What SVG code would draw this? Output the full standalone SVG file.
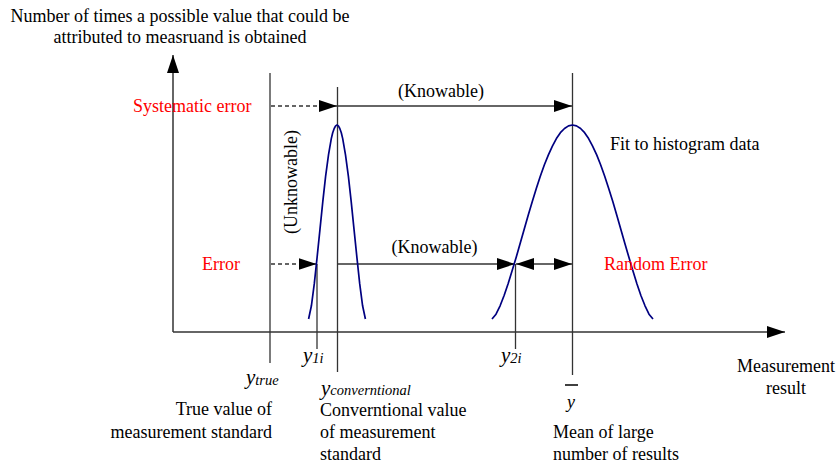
<svg xmlns="http://www.w3.org/2000/svg" width="839" height="473" viewBox="0 0 839 473">
<style>
text{font-family:"Liberation Serif","Times New Roman",serif;font-size:18px;fill:#000}
.red{fill:#ff0000}
.it{font-style:italic}
.sub{font-size:14.5px;font-style:italic}
.ln{stroke:#333;stroke-width:1.3;fill:none}
.ax{stroke:#333;stroke-width:1.5;fill:none}
.dash{stroke:#333;stroke-width:1.3;fill:none;stroke-dasharray:4 3}
.curve{stroke:#000080;stroke-width:1.7;fill:none;stroke-linejoin:round}
</style>
<defs>
<marker id="ah" viewBox="0 0 18 12" markerWidth="18" markerHeight="12" markerUnits="userSpaceOnUse" refX="18" refY="6" orient="auto-start-reverse">
<path d="M0,0 L18,6 L0,12 z" fill="#000"/>
</marker>
</defs>
<rect width="839" height="473" fill="#fff"/>
<g id="title">
<text x="180" y="22" text-anchor="middle">Number of times a possible value that could be</text>
<text x="180" y="43" text-anchor="middle">attributed to measruand is obtained</text>
</g>
<g id="axes">
<line class="ax" x1="173" y1="332" x2="173" y2="55" marker-end="url(#ah)"/>
<line class="ax" x1="173" y1="332" x2="785" y2="332" marker-end="url(#ah)"/>
</g>
<g id="connectors">
<line class="ln" x1="270" y1="73" x2="270" y2="363"/>
<line class="ln" x1="317" y1="264" x2="317" y2="349"/>
<line class="ln" x1="337.5" y1="87" x2="337.5" y2="372"/>
<line class="ln" x1="515.5" y1="264" x2="515.5" y2="349"/>
<line class="ln" x1="572.5" y1="73" x2="572.5" y2="375"/>
<line class="dash" x1="271" y1="106" x2="337" y2="106" marker-end="url(#ah)"/>
<line class="ln" x1="337.5" y1="106" x2="572" y2="106" marker-end="url(#ah)"/>
<line class="dash" x1="271" y1="264" x2="316.5" y2="264" marker-end="url(#ah)"/>
<line class="ln" x1="337.5" y1="264" x2="515" y2="264" marker-end="url(#ah)"/>
<line class="ln" x1="516" y1="264" x2="572" y2="264" marker-start="url(#ah)" marker-end="url(#ah)"/>
</g>
<g id="narrow-curve">
<polyline class="curve" points="308.6,319 311.4,305.8 314.3,283.7 317.1,257.3 320.0,229.2 322.8,201.6 325.6,176.3 328.5,154.9 331.3,138.6 332.7,132.7 334.2,128.5 335.6,125.9 337,125 338.4,125.9 339.8,128.5 341.3,132.7 342.7,138.6 345.5,154.9 348.4,176.3 351.2,201.6 354.0,229.2 356.9,257.3 359.7,283.7 362.6,305.8 365.4,319"/>
</g>
<g id="wide-curve">
<polyline class="curve" points="492.0,319 496.0,314.2 500.1,305.8 504.1,295.5 508.1,283.7 512.1,270.8 516.2,257.3 520.2,243.3 524.2,229.2 528.2,215.3 532.3,201.6 536.3,188.6 540.3,176.3 544.3,165.0 548.4,154.9 552.4,146.1 556.4,138.6 560.4,132.7 564.5,128.5 568.5,125.9 572.5,125 576.5,125.9 580.6,128.5 584.6,132.7 588.6,138.6 592.6,146.1 596.7,154.9 600.7,165.0 604.7,176.3 608.7,188.6 612.8,201.6 616.8,215.3 620.8,229.2 624.8,243.3 628.9,257.3 632.9,270.8 636.9,283.7 640.9,295.5 645.0,305.8 649.0,314.2 653.0,319"/>
</g>
<g id="labels">
<text class="red" x="133" y="112">Systematic error</text>
<text class="red" x="202" y="270">Error</text>
<text class="red" x="604" y="270">Random Error</text>
<text x="441" y="97" text-anchor="middle">(Knowable)</text>
<text x="434.5" y="253" text-anchor="middle">(Knowable)</text>
<text transform="translate(297,182) rotate(-90)" text-anchor="middle">(Unknowable)</text>
<text x="610" y="150">Fit to histogram data</text>
</g>
<g id="x-label">
<text x="786" y="372" text-anchor="middle">Measurement</text>
<text x="786" y="394" text-anchor="middle">result</text>
</g>
<g id="y-true">
<text x="246" y="384"><tspan class="it" font-size="21">y</tspan><tspan class="sub" dy="1">true</tspan></text>
<text x="272" y="415" text-anchor="end">True value of</text>
<text x="272" y="438" text-anchor="end">measurement standard</text>
</g>
<g id="y-1i">
<text x="303" y="362"><tspan class="it" font-size="21">y</tspan><tspan class="sub" dy="1">1i</tspan></text>
</g>
<g id="y-conv">
<text x="321" y="395"><tspan class="it" font-size="21">y</tspan><tspan class="sub">converntional</tspan></text>
<text x="320" y="416">Converntional value</text>
<text x="320" y="438">of measurement</text>
<text x="320" y="460">standard</text>
</g>
<g id="y-2i">
<text x="501" y="362"><tspan class="it" font-size="21">y</tspan><tspan class="sub" dy="1">2i</tspan></text>
</g>
<g id="y-bar">
<line x1="565" y1="385" x2="578" y2="385" stroke="#000" stroke-width="1.5"/>
<text class="it" x="571" y="408" font-size="27" text-anchor="middle">y</text>
<text x="553" y="438">Mean of large</text>
<text x="553" y="460">number of results</text>
</g>
</svg>
